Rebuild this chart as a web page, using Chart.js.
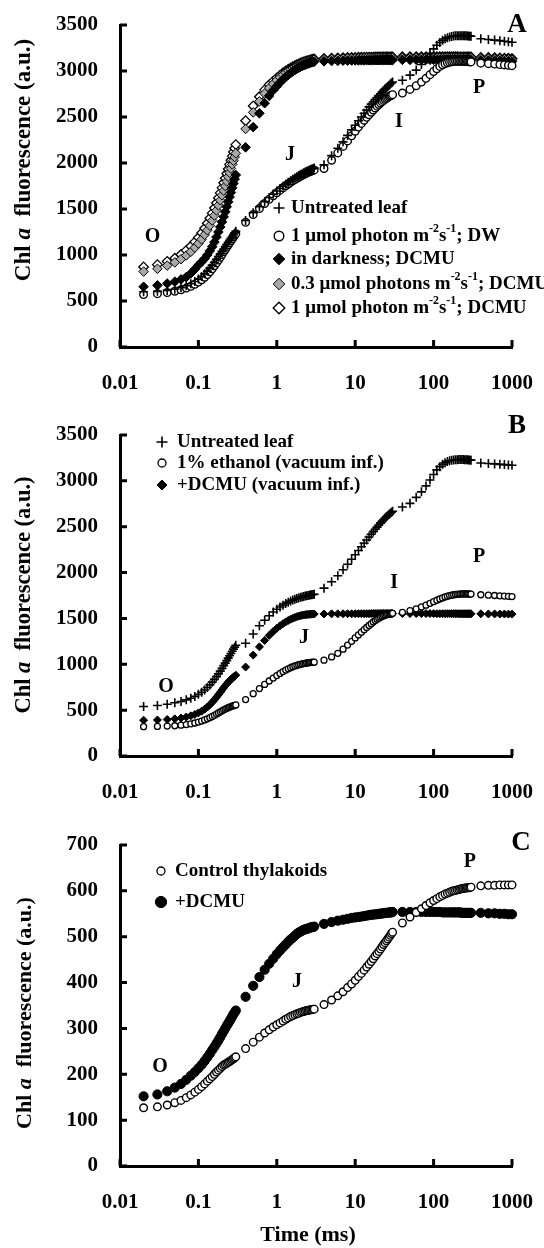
<!DOCTYPE html>
<html lang="en">
<head>
<meta charset="UTF-8">
<title>Chl a fluorescence transients</title>
<script src="https://cdn.jsdelivr.net/npm/chart.js"></script>
<style>
  body { margin: 0; background: #fff; }
  #page { position: relative; width: 544px; height: 1248px; }
  canvas { position: absolute; left: 0; }
</style>
</head>
<body>
<div id="page">
  <canvas id="chartA" width="544" height="415" style="top:0px"></canvas>
  <canvas id="chartB" width="544" height="410" style="top:415px"></canvas>
  <canvas id="chartC" width="544" height="423" style="top:825px"></canvas>
</div>

<script>
// time points (ms), same grid for every curve
const timeMs = [
  0.02,0.03,0.04,0.05,0.06,0.07,0.08,0.09,0.1,0.11,0.12,0.13,0.14,0.15,0.16,0.17,0.18,0.19,0.2,0.21,0.22,0.23,0.24,0.25,0.26,0.27,0.28,0.29,0.3,
  0.4,0.5,0.6,0.7,0.8,0.9,1,1.1,1.2,1.3,1.4,1.5,1.6,1.7,1.8,1.9,2,2.1,2.2,2.3,2.4,2.5,2.6,2.7,2.8,2.9,3,
  4,5,6,7,8,9,10,11,12,13,14,15,16,17,18,19,20,21,22,23,24,25,26,27,28,29,30,
  40,50,60,70,80,90,100,110,120,130,140,150,160,170,180,190,200,210,220,230,240,250,260,270,280,290,300,
  400,500,600,700,800,900,1000
];
const xTickValues = [0.01, 0.1, 1, 10, 100, 1000];

// ---- panel A ----
const aLabels = ['Untreated leaf', '1 μmol photon m^{-2}s^{-1}; DW', 'in darkness; DCMU',
                 '0.3 μmol photons m^{-2}s^{-1}; DCMU', '1 μmol photon m^{-2}s^{-1}; DCMU'];
const aUntreated = [
  600,605,615,628,645,665,688,712,738,765,795,825,857,890,922,953,983,1012,1040,1066,1091,1115,1138,1160,1181,1201,1221,1240,1258,
  1375,1460,1525,1580,1625,1662,1695,1723,1748,1770,1790,1808,1824,1838,1851,1863,1874,1884,1893,1901,1909,1916,1923,1929,1935,1940,1945,
  1980,2080,2160,2230,2300,2360,2410,2460,2500,2540,2575,2610,2640,2665,2690,2712,2732,2752,2770,2787,2803,2818,2832,2845,2858,2870,2880,
  2900,2955,3010,3070,3130,3190,3240,3280,3310,3333,3350,3362,3370,3376,3380,3382,3383,3384,3384,3384,3384,3383,3382,3381,3380,3379,3378,
  3350,3342,3336,3330,3324,3318,3312
];
const aDW = [
  570,580,592,606,622,640,660,682,706,731,758,787,818,850,882,914,945,976,1006,1034,1060,1085,1109,1132,1154,1175,1195,1214,1232,
  1355,1440,1505,1560,1605,1643,1676,1705,1730,1752,1772,1790,1806,1820,1833,1845,1856,1866,1875,1883,1891,1898,1904,1910,1915,1920,1925,
  1940,2030,2110,2180,2240,2295,2345,2390,2430,2465,2497,2525,2552,2576,2598,2618,2636,2652,2667,2680,2692,2703,2713,2722,2730,2737,2743,
  2760,2800,2840,2880,2920,2960,2995,3025,3050,3068,3080,3090,3096,3100,3103,3105,3106,3106,3106,3105,3105,3104,3103,3102,3101,3100,3099,
  3085,3080,3075,3070,3066,3062,3058
];
const aDarkDCMU = [
  655,670,690,710,735,760,800,845,890,925,960,1000,1045,1090,1140,1195,1250,1305,1360,1415,1470,1525,1578,1630,1680,1730,1778,1825,1870,
  2170,2390,2540,2650,2730,2790,2835,2875,2908,2935,2958,2978,2995,3010,3023,3035,3045,3054,3062,3069,3075,3081,3086,3091,3095,3099,3102,
  3105,3108,3110,3112,3113,3114,3115,3115,3116,3116,3117,3117,3117,3118,3118,3118,3118,3118,3119,3119,3119,3119,3119,3119,3119,3119,3119,
  3121,3121,3122,3122,3122,3122,3123,3123,3123,3123,3123,3123,3123,3122,3122,3122,3122,3122,3121,3121,3121,3121,3120,3120,3120,3120,3120,
  3115,3113,3112,3110,3108,3106,3104
];
const aLow03DCMU = [
  820,850,885,920,955,995,1035,1080,1125,1170,1220,1270,1320,1375,1430,1485,1540,1595,1650,1700,1750,1800,1850,1895,1940,1985,2025,2065,2105,
  2370,2550,2670,2755,2815,2860,2900,2932,2960,2983,3002,3018,3032,3045,3056,3066,3075,3083,3090,3096,3101,3106,3110,3114,3117,3120,3123,
  3127,3130,3132,3134,3135,3136,3137,3137,3138,3138,3138,3139,3139,3139,3139,3140,3140,3140,3140,3140,3140,3140,3140,3141,3141,3141,3141,
  3141,3141,3142,3142,3142,3142,3142,3142,3142,3142,3142,3141,3141,3141,3141,3141,3141,3140,3140,3140,3140,3140,3140,3139,3139,3139,3139,
  3135,3133,3131,3129,3127,3125,3123
];
const aLow1DCMU = [
  870,895,930,965,1005,1050,1095,1142,1190,1240,1290,1345,1400,1455,1510,1565,1620,1675,1730,1785,1835,1885,1935,1985,2030,2075,2120,2160,2200,
  2460,2620,2720,2795,2850,2890,2925,2955,2980,3000,3018,3033,3046,3058,3068,3077,3085,3092,3098,3104,3109,3113,3117,3121,3124,3127,3130,
  3135,3139,3142,3144,3146,3147,3148,3149,3149,3150,3150,3151,3151,3151,3152,3152,3152,3152,3152,3153,3153,3153,3153,3153,3153,3153,3153,
  3154,3154,3154,3155,3155,3155,3155,3155,3155,3155,3155,3155,3154,3154,3154,3154,3154,3153,3153,3153,3153,3153,3152,3152,3152,3152,3152,
  3148,3146,3144,3142,3140,3138,3136
];

// ---- panel B ----
const bLabels = ['Untreated leaf', '1% ethanol (vacuum inf.)', '+DCMU (vacuum inf.)'];
const bUntreated = [
  540,550,565,580,595,612,630,650,672,695,720,747,775,805,835,865,895,925,955,985,1013,1040,1067,1093,1118,1142,1165,1187,1208,
  1230,1330,1420,1480,1530,1570,1600,1625,1645,1662,1677,1690,1700,1709,1717,1724,1730,1735,1740,1744,1748,1751,1754,1757,1759,1761,1763,
  1830,1900,1965,2030,2090,2145,2195,2240,2282,2320,2355,2388,2418,2446,2472,2496,2518,2539,2558,2576,2593,2608,2622,2635,2647,2658,2668,
  2715,2755,2820,2880,2945,3010,3070,3120,3155,3180,3198,3210,3218,3224,3228,3230,3231,3232,3232,3232,3232,3231,3230,3229,3228,3227,3226,
  3195,3190,3185,3180,3177,3173,3170
];
const bEthanol = [
  320,322,326,330,336,343,351,360,370,381,393,405,418,431,444,457,470,482,493,503,512,520,527,533,539,544,549,553,557,
  615,680,735,780,818,850,877,900,920,937,951,963,973,982,989,995,1000,1004,1008,1011,1014,1016,1018,1020,1021,1022,1023,
  1045,1080,1120,1165,1210,1250,1287,1320,1350,1377,1401,1423,1443,1461,1477,1491,1503,1513,1522,1529,1535,1540,1544,1548,1551,1554,1556,
  1565,1585,1605,1625,1645,1665,1683,1698,1712,1724,1734,1742,1749,1754,1758,1761,1763,1765,1766,1767,1767,1768,1768,1767,1767,1766,1766,
  1758,1754,1750,1747,1744,1741,1738
];
const bDCMU = [
  390,393,398,405,414,425,438,453,470,489,510,533,558,585,612,640,667,694,720,744,766,786,804,820,835,848,860,871,881,
  970,1100,1190,1260,1315,1358,1392,1420,1443,1462,1478,1491,1502,1511,1519,1525,1530,1534,1537,1540,1542,1544,1545,1546,1547,1548,1548,
  1549,1550,1550,1551,1551,1551,1552,1552,1552,1552,1552,1552,1553,1553,1553,1553,1553,1553,1553,1553,1553,1553,1553,1553,1553,1553,1553,
  1553,1553,1553,1553,1553,1553,1553,1552,1552,1552,1552,1552,1552,1552,1552,1552,1552,1551,1551,1551,1551,1551,1551,1551,1551,1551,1550,
  1550,1549,1549,1548,1548,1547,1547
];

// ---- panel C ----
const cLabels = ['Control thylakoids', '+DCMU'];
const cControl = [
  127,129,133,138,143,149,155,161,167,173,179,185,190,195,200,205,209,213,217,220,222,224,226,228,230,232,234,236,238,
  256,270,281,290,297,303,308,312,316,320,323,326,328,330,332,333,335,336,337,338,339,339,340,341,341,342,342,
  352,362,371,380,389,397,405,413,420,427,434,440,446,452,458,463,468,473,478,483,487,491,495,499,503,507,510,
  530,543,553,561,568,574,579,583,587,590,593,595,597,599,600,601,602,603,604,605,605,606,606,607,607,607,608,
  611,612,612,613,613,613,613
];
const cDCMU = [
  152,156,163,171,179,188,197,205,213,221,229,237,245,253,260,267,274,281,288,294,300,306,311,316,321,326,331,335,339,
  369,393,412,428,441,452,462,470,477,483,489,494,498,502,506,509,511,513,515,516,517,518,519,520,521,521,522,
  528,532,535,537,539,541,542,543,544,545,546,547,548,548,549,549,550,550,551,551,552,552,552,553,553,553,554,
  554,554,554,554,554,554,554,554,554,553,553,553,553,553,553,553,553,553,553,552,552,552,552,552,552,552,552,
  552,551,551,550,550,549,549
];

const FONT = '"Liberation Serif", "Times New Roman", serif';
const AREA_LEFT = 120, AREA_RIGHT = 512;

// marker looks
const plus     = { pointStyle: 'cross',   radius: 4.5, bg: '#000', border: '#000', bw: 1.6 };
const openCirc = { pointStyle: 'circle',  radius: 3.8, bg: '#fff', border: '#000', bw: 1.4 };
const smallCirc= { pointStyle: 'circle',  radius: 3,   bg: '#fff', border: '#000', bw: 1.3 };
const blackDia = { pointStyle: 'rectRot', radius: 4.8, bg: '#000', border: '#000', bw: 1 };
const grayDia  = { pointStyle: 'rectRot', radius: 4.8, bg: '#a8a8a8', border: '#000', bw: 1 };
const openDia  = { pointStyle: 'rectRot', radius: 4.8, bg: '#fff', border: '#000', bw: 1.3 };
const smallDia = { pointStyle: 'rectRot', radius: 4,   bg: '#000', border: '#000', bw: 1 };
const dot      = { pointStyle: 'circle',  radius: 4.6, bg: '#000', border: '#000', bw: 1 };

function toPoints(values) {
  return timeMs.map((t, i) => ({ x: t, y: values[i] }));
}

function splitSup(str) {
  return str.split(/\^\{([^}]*)\}/).map((t, i) => ({ t: t, sup: i % 2 === 1 }));
}

function richFont(p, size) {
  const s = p.sup ? Math.round(size * 0.62) : size;
  return (p.italic ? 'italic ' : '') + 'bold ' + s + 'px ' + FONT;
}

function measureRich(ctx, parts, size) {
  let w = 0;
  parts.forEach(p => { ctx.font = richFont(p, size); w += ctx.measureText(p.t).width; });
  return w;
}

function drawRich(ctx, parts, x, y, size) {
  let cx = x;
  parts.forEach(p => {
    ctx.font = richFont(p, size);
    ctx.fillText(p.t, cx, p.sup ? y - size * 0.36 : y);
    cx += ctx.measureText(p.t).width;
  });
}

// no extra room around the axes for the tick labels: the plot area is set by the layout padding
function noLabelPadding(s) {
  s.paddingTop = 0; s.paddingBottom = 0; s.paddingLeft = 0; s.paddingRight = 0;
}

// ticks pointing into the plot
const inwardTicks = {
  id: 'inwardTicks',
  beforeDatasetsDraw(chart) {
    const { ctx, chartArea: a, scales: { x, y } } = chart;
    ctx.save();
    ctx.strokeStyle = '#000';
    ctx.lineWidth = 3;
    ctx.beginPath();
    x.ticks.forEach(t => {
      const px = x.getPixelForValue(t.value);
      ctx.moveTo(px, a.bottom); ctx.lineTo(px, a.bottom - 7);
    });
    y.ticks.forEach(t => {
      const py = y.getPixelForValue(t.value);
      ctx.moveTo(a.left, py); ctx.lineTo(a.left + 7, py);
    });
    ctx.stroke();
    ctx.restore();
  }
};

// titles, legend, O-J-I-P marks, panel letter
const panelText = {
  id: 'panelText',
  afterDraw(chart, args, o) {
    const ctx = chart.ctx;
    const xs = chart.scales.x, ys = chart.scales.y;
    ctx.save();
    ctx.fillStyle = '#000';
    ctx.textBaseline = 'middle';

    ctx.save();
    ctx.translate(o.yTitle.x, o.yTitle.y);
    ctx.rotate(-Math.PI / 2);
    const tparts = [{ t: 'Chl ' }, { t: 'a', italic: true }, { t: '  fluorescence (a.u.)' }];
    drawRich(ctx, tparts, -measureRich(ctx, tparts, o.yTitle.size) / 2, 0, o.yTitle.size);
    ctx.restore();

    o.legend.rows.forEach((ly, i) => {
      const m = o.legend.markers[i];
      ctx.fillStyle = m.bg;
      ctx.strokeStyle = m.border;
      ctx.lineWidth = m.bw;
      Chart.helpers.drawPoint(ctx, { pointStyle: m.pointStyle, radius: m.radius + 1, rotation: 0, borderWidth: m.bw },
        o.legend.markerX, ly);
      ctx.fillStyle = '#000';
      ctx.textAlign = 'left';
      drawRich(ctx, splitSup(o.legend.labels[i]), o.legend.textX, ly, o.legend.size);
    });

    ctx.textAlign = 'center';
    ctx.font = 'bold 20px ' + FONT;
    o.marks.forEach(m => ctx.fillText(m.text, xs.getPixelForValue(m.t), ys.getPixelForValue(m.v)));

    ctx.font = 'bold 27px ' + FONT;
    ctx.fillText(o.letter.text, o.letter.x, o.letter.y);

    if (o.xTitle) {
      ctx.font = 'bold 22px ' + FONT;
      ctx.fillText(o.xTitle.text, o.xTitle.x, o.xTitle.y);
    }
    ctx.restore();
  }
};

function makeChart(id, p) {
  const canvas = document.getElementById(id);
  const tickFont = { family: FONT, size: 21, weight: 'bold' };
  return new Chart(canvas, {
    type: 'scatter',
    data: {
      datasets: p.series.map(s => ({
        label: s.label,
        data: toPoints(s.values),
        showLine: false,
        pointStyle: s.look.pointStyle,
        pointRadius: s.look.radius,
        pointBackgroundColor: s.look.bg,
        pointBorderColor: s.look.border,
        pointBorderWidth: s.look.bw,
        clip: false
      }))
    },
    options: {
      responsive: false,
      devicePixelRatio: 1,
      animation: false,
      events: [],
      layout: { padding: { top: p.areaTop, right: canvas.width - AREA_RIGHT, left: 0, bottom: 0 } },
      plugins: {
        legend: { display: false },
        tooltip: { enabled: false },
        panelText: p.text
      },
      scales: {
        x: {
          type: 'logarithmic',
          min: 0.01,
          max: 1000,
          afterBuildTicks: s => { s.ticks = xTickValues.map(v => ({ value: v })); },
          afterFit: s => { s.height = canvas.height - p.areaBottom; noLabelPadding(s); },
          ticks: { font: tickFont, color: '#000', padding: 24, maxRotation: 0, autoSkip: false,
                   callback: v => String(v) },
          grid: { drawOnChartArea: false, drawTicks: false },
          border: { color: '#000', width: 3 }
        },
        y: {
          min: 0,
          max: p.yMax,
          afterFit: s => { s.width = AREA_LEFT; noLabelPadding(s); },
          ticks: { stepSize: p.yStep, font: tickFont, color: '#000', padding: 22,
                   callback: v => String(v) },
          grid: { drawOnChartArea: false, drawTicks: false },
          border: { color: '#000', width: 3 }
        }
      }
    },
    plugins: [inwardTicks, panelText]
  });
}

makeChart('chartA', {
  areaTop: 25, areaBottom: 347, yMax: 3500, yStep: 500,
  series: [
    { label: aLabels[0], values: aUntreated, look: plus },
    { label: aLabels[1], values: aDW, look: openCirc },
    { label: aLabels[2], values: aDarkDCMU, look: blackDia },
    { label: aLabels[3], values: aLow03DCMU, look: grayDia },
    { label: aLabels[4], values: aLow1DCMU, look: openDia }
  ],
  text: {
    yTitle: { x: 24, y: 160, size: 23 },
    legend: { labels: aLabels, markers: [plus, openCirc, blackDia, grayDia, openDia],
              markerX: 279, textX: 291, rows: [208, 236, 259, 284, 308], size: 19 },
    marks: [ { text: 'O', t: 0.026, v: 1200 }, { text: 'J', t: 1.47, v: 2090 },
             { text: 'I', t: 36, v: 2450 }, { text: 'P', t: 380, v: 2815 } ],
    letter: { text: 'A', x: 517, y: 25 }
  }
});

makeChart('chartB', {
  areaTop: 20, areaBottom: 341, yMax: 3500, yStep: 500,
  series: [
    { label: bLabels[0], values: bUntreated, look: plus },
    { label: bLabels[1], values: bEthanol, look: smallCirc },
    { label: bLabels[2], values: bDCMU, look: smallDia }
  ],
  text: {
    yTitle: { x: 24, y: 180, size: 22.5 },
    legend: { labels: bLabels, markers: [plus, smallCirc, smallDia],
              markerX: 162, textX: 177, rows: [27, 48, 70], size: 19 },
    marks: [ { text: 'O', t: 0.0386, v: 752 }, { text: 'J', t: 2.22, v: 1286 },
             { text: 'I', t: 31.3, v: 1886 }, { text: 'P', t: 380, v: 2169 } ],
    letter: { text: 'B', x: 517, y: 11 }
  }
});

makeChart('chartC', {
  areaTop: 20, areaBottom: 341, yMax: 700, yStep: 100,
  series: [
    { label: cLabels[0], values: cControl, look: openCirc },
    { label: cLabels[1], values: cDCMU, look: dot }
  ],
  text: {
    yTitle: { x: 25, y: 188, size: 22 },
    legend: { labels: cLabels, markers: [smallCirc, dot],
              markerX: 161, textX: 175, rows: [46, 77], size: 19 },
    marks: [ { text: 'O', t: 0.0324, v: 216 }, { text: 'J', t: 1.81, v: 401 },
             { text: 'P', t: 291, v: 663 } ],
    letter: { text: 'C', x: 521, y: 18 },
    xTitle: { text: 'Time (ms)', x: 308, y: 410 }
  }
});
</script>
</body>
</html>
